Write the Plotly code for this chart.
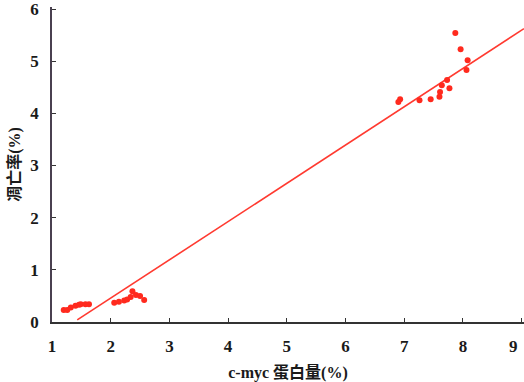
import plotly.graph_objects as go

# data
x_low = [1.20, 1.26, 1.32, 1.40, 1.46, 1.49, 1.57, 1.63]
y_low = [0.23, 0.23, 0.28, 0.31, 0.33, 0.34, 0.34, 0.34]
x_mid = [2.06, 2.14, 2.23, 2.28, 2.34, 2.37, 2.43, 2.50, 2.57]
y_mid = [0.37, 0.39, 0.41, 0.43, 0.48, 0.59, 0.52, 0.50, 0.42]
x_high = [7.87, 7.96, 8.08, 8.06, 7.73, 7.64, 7.77, 7.61, 7.60, 7.45, 7.26, 6.93, 6.90]
y_high = [5.54, 5.23, 5.02, 4.83, 4.64, 4.54, 4.48, 4.41, 4.32, 4.27, 4.25, 4.27, 4.22]
fit_x = [1.43, 9.04]
fit_slope = 0.734
fit_intercept = -1.01
x_ticks = [1, 2, 3, 4, 5, 6, 7, 8, 9]
y_ticks = [0, 1, 2, 3, 4, 5, 6]
x_title = "<b>c-myc 蛋白量(%)</b>"
y_title = "<b>凋亡率(%)</b>"

xs = x_low + x_mid + x_high
ys = y_low + y_mid + y_high
fit_y = [fit_slope * v + fit_intercept for v in fit_x]

# last x label is padded so it stays inside the picture
x_ticktext = ["<b>%d</b>" % v for v in x_ticks]
x_ticktext[-1] = x_ticktext[-1] + "\u00a0" * 4

fig = go.Figure()
fig.add_trace(go.Scatter(x=fit_x, y=fit_y, mode="lines",
                         line=dict(color="#ff3a30", width=1.6), hoverinfo="skip"))
fig.add_trace(go.Scatter(x=xs, y=ys, mode="markers",
                         marker=dict(color="#ff2a1e", size=6, symbol="circle",
                                     line=dict(width=0))))

font_main = "'Liberation Serif', 'Times New Roman', serif"
font_title = "'Liberation Serif', 'Noto Sans CJK SC', serif"
fig.update_layout(
    width=524, height=382,
    margin=dict(l=52, r=0, t=7, b=60),
    plot_bgcolor="white", paper_bgcolor="white",
    showlegend=False,
    font=dict(family=font_main, size=17, color="#1a1a1a"),
)
fig.update_xaxes(
    range=[1, 9.04], tickvals=x_ticks, ticktext=x_ticktext,
    showline=True, linecolor="#333", linewidth=1.5, mirror=False,
    ticks="inside", ticklen=4, tickcolor="#333", showgrid=False, zeroline=False,
    ticklabelstandoff=8, automargin=False, ticklabeloverflow="allow",
    title=dict(text=x_title, font=dict(family=font_title, size=16), standoff=12),
)
fig.update_yaxes(
    range=[0, 6.04], tickvals=y_ticks, ticktext=["<b>%d</b>" % v for v in y_ticks],
    showline=True, linecolor="#4a4050", linewidth=1.5, mirror=False,
    ticks="inside", ticklen=4, tickcolor="#333", showgrid=False, zeroline=False,
    ticklabelstandoff=8, automargin=False, ticklabeloverflow="allow",
    title=dict(text=y_title, font=dict(family=font_title, size=16), standoff=6),
)
fig.write_html("out.html", config={"displayModeBar": False},
               post_script="document.body.style.margin='0';")
